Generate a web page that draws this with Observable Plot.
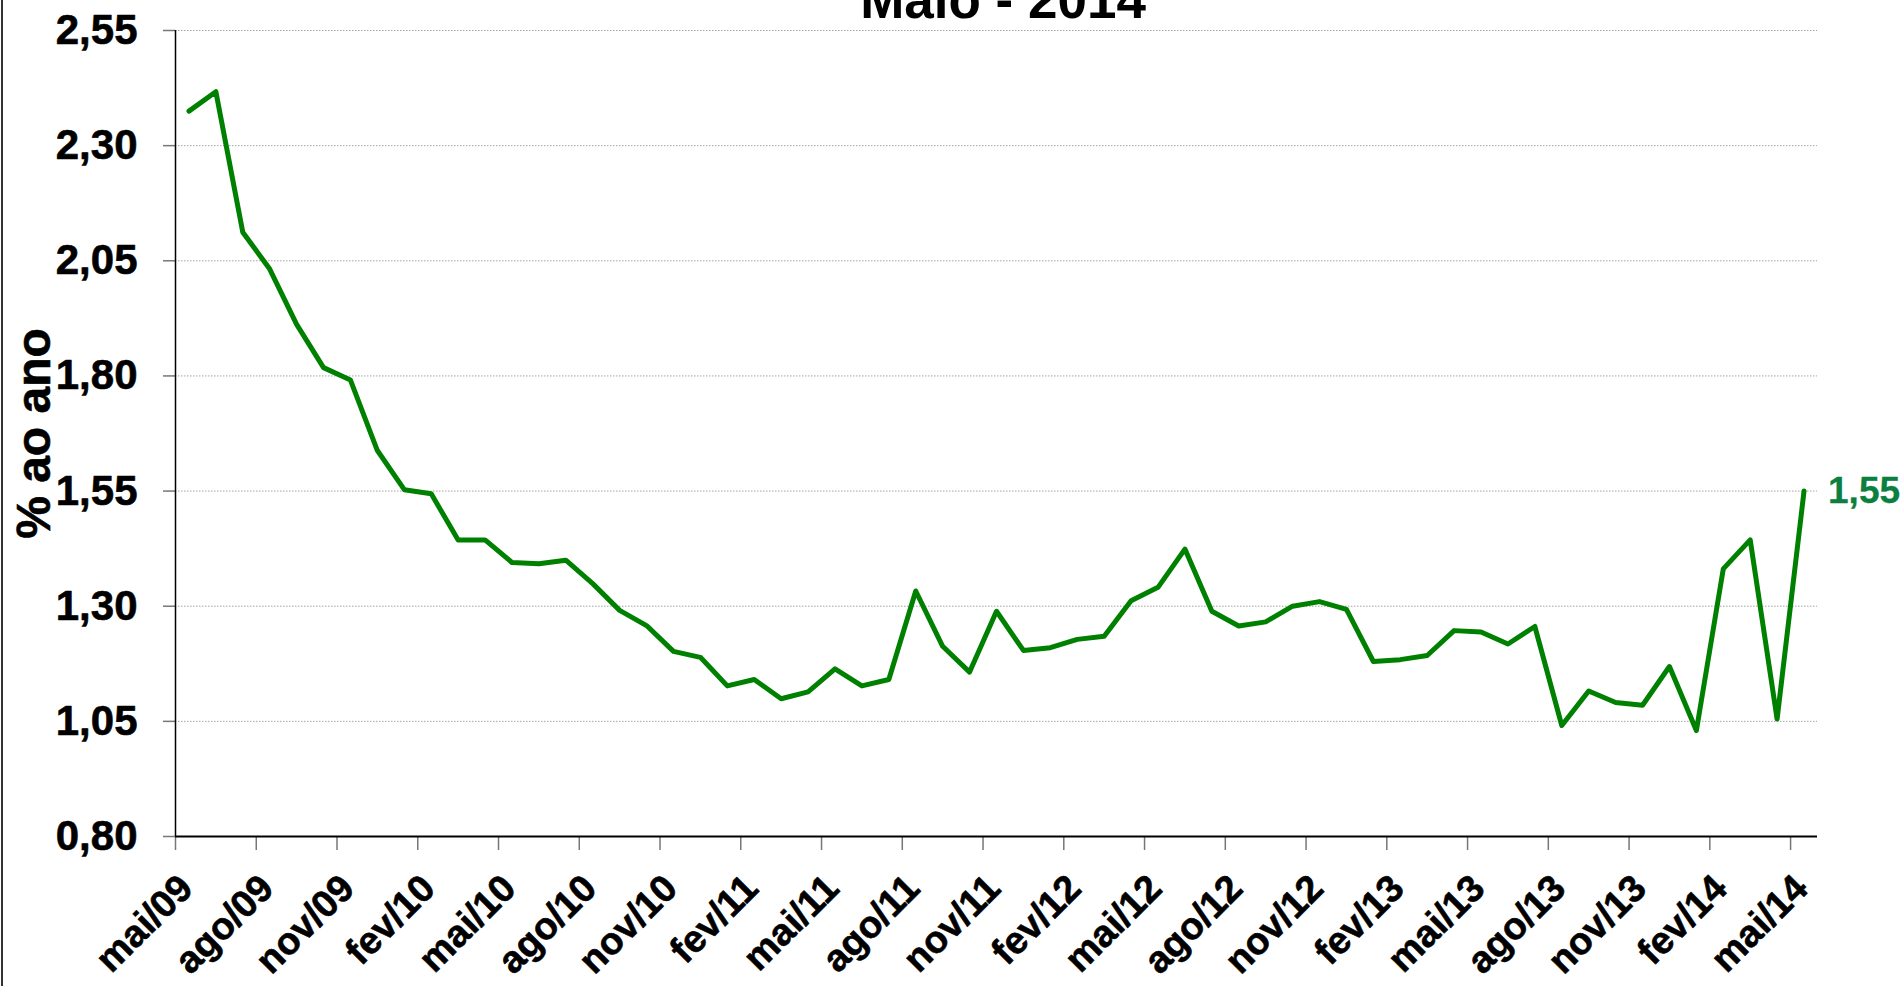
<!DOCTYPE html>
<html>
<head>
<meta charset="utf-8">
<script src="https://cdn.jsdelivr.net/npm/d3@7"></script>
<script src="https://cdn.jsdelivr.net/npm/@observablehq/plot@0.6"></script>
<style>
  html, body { margin: 0; padding: 0; background: #fff; overflow: hidden; }
  #wrap { position: relative; width: 1903px; height: 986px; overflow: hidden; background: #fff; }
  #border { position: absolute; left: 1px; top: 0; width: 2px; height: 986px; background: #333; }
  #title { position: absolute; left: 503px; width: 1000px; top: -27px; text-align: center;
           font-family: "Liberation Sans", Arial, sans-serif; font-weight: bold; font-size: 53px; line-height: 53px; color: #000; }
  #chart { position: absolute; left: 0; top: 0; }
  #chart svg { font-family: "Liberation Sans", Arial, sans-serif; }
</style>
</head>
<body>
<div id="wrap">
  <div id="chart"></div>
  <div id="border"></div>
  <div id="title">Maio - 2014</div>
</div>
<script>
const months = [
  "mai/09","jun/09","jul/09","ago/09","set/09","out/09","nov/09","dez/09",
  "jan/10","fev/10","mar/10","abr/10","mai/10","jun/10","jul/10","ago/10","set/10","out/10","nov/10","dez/10",
  "jan/11","fev/11","mar/11","abr/11","mai/11","jun/11","jul/11","ago/11","set/11","out/11","nov/11","dez/11",
  "jan/12","fev/12","mar/12","abr/12","mai/12","jun/12","jul/12","ago/12","set/12","out/12","nov/12","dez/12",
  "jan/13","fev/13","mar/13","abr/13","mai/13","jun/13","jul/13","ago/13","set/13","out/13","nov/13","dez/13",
  "jan/14","fev/14","mar/14","abr/14","mai/14"
];
const values = [
  2.375, 2.417, 2.112, 2.032, 1.912, 1.818, 1.791, 1.638,
  1.553, 1.544, 1.444, 1.444, 1.395, 1.392, 1.400, 1.349, 1.291, 1.258, 1.202, 1.189,
  1.127, 1.141, 1.099, 1.114, 1.164, 1.127, 1.141, 1.333, 1.213, 1.157, 1.289, 1.204,
  1.210, 1.228, 1.235, 1.312, 1.341, 1.424, 1.289, 1.257, 1.266, 1.300, 1.310, 1.293,
  1.180, 1.184, 1.193, 1.247, 1.244, 1.218, 1.256, 1.041, 1.116, 1.091, 1.085, 1.169,
  1.030, 1.381, 1.444, 1.055, 1.550
];
const tickMonths = ["mai/09","ago/09","nov/09","fev/10","mai/10","ago/10","nov/10","fev/11","mai/11",
  "ago/11","nov/11","fev/12","mai/12","ago/12","nov/12","fev/13","mai/13","ago/13","nov/13","fev/14","mai/14"];
const yTicks = [0.80, 1.05, 1.30, 1.55, 1.80, 2.05, 2.30, 2.55];
const yLabel = "% ao ano";

const data = months.map((m, i) => ({month: m, value: values[i]}));
const fmt = v => v.toFixed(2).replace(".", ",");

const W = 1903, H = 986, mL = 175, mR = 86, mT = 30, mB = 150;
const step = (W - mL - mR) / months.length;

const chart = Plot.plot({
  width: W, height: H,
  marginLeft: mL, marginRight: mR, marginTop: mT, marginBottom: mB,
  style: {background: "#fff", color: "#000", overflow: "visible"},
  x: {type: "point", domain: months, padding: 0.5, axis: null},
  y: {domain: [0.80, 2.55], axis: null},
  marks: [
    Plot.ruleY(yTicks.slice(1), {y: d => d, stroke: "#a3a3a3", strokeWidth: 1, strokeDasharray: "1.5,1.5"}),
    Plot.ruleY(yTicks, {y: d => d, insetLeft: -12, insetRight: W - mL - mR, stroke: "#777", strokeWidth: 1.5}),
    Plot.ruleX(tickMonths, {x: d => d, y1: 0.80, y2: 0.80, insetBottom: -14, dx: -step / 2, stroke: "#777", strokeWidth: 1.5}),
    Plot.ruleY([0.80], {stroke: "#000", strokeWidth: 2}),
    Plot.ruleX([months[0]], {dx: -step / 2, stroke: "#000", strokeWidth: 1.5}),
    Plot.text(yTicks, {y: d => d, text: d => fmt(d), frameAnchor: "left", dx: -38, textAnchor: "end",
      fontSize: 42, fontWeight: "bold", fill: "#000", stroke: "#000", strokeWidth: 0.6}),
    Plot.text(tickMonths, {x: d => d, text: d => d, frameAnchor: "bottom", dx: 6, dy: 54, rotate: -45,
      textAnchor: "end", lineAnchor: "bottom", fontSize: 38, fontWeight: "bold", fill: "#000", stroke: "#000", strokeWidth: 0.6}),
    Plot.text([yLabel], {text: d => d, frameAnchor: "left", dx: -141, rotate: -90, textAnchor: "middle",
      fontSize: 48, fontWeight: "bold", fill: "#000", stroke: "#000", strokeWidth: 0.6}),
    Plot.line(data, {x: "month", y: "value", stroke: "#008000", strokeWidth: 5, strokeLinejoin: "round"}),
    Plot.text([data[data.length - 1]], {x: "month", y: "value", text: d => fmt(d.value), dx: 24, textAnchor: "start",
      fontSize: 37, fontWeight: "bold", fill: "#0b7f3f", stroke: "#0b7f3f", strokeWidth: 0.3})
  ]
});
document.getElementById("chart").appendChild(chart);
</script>
</body>
</html>
